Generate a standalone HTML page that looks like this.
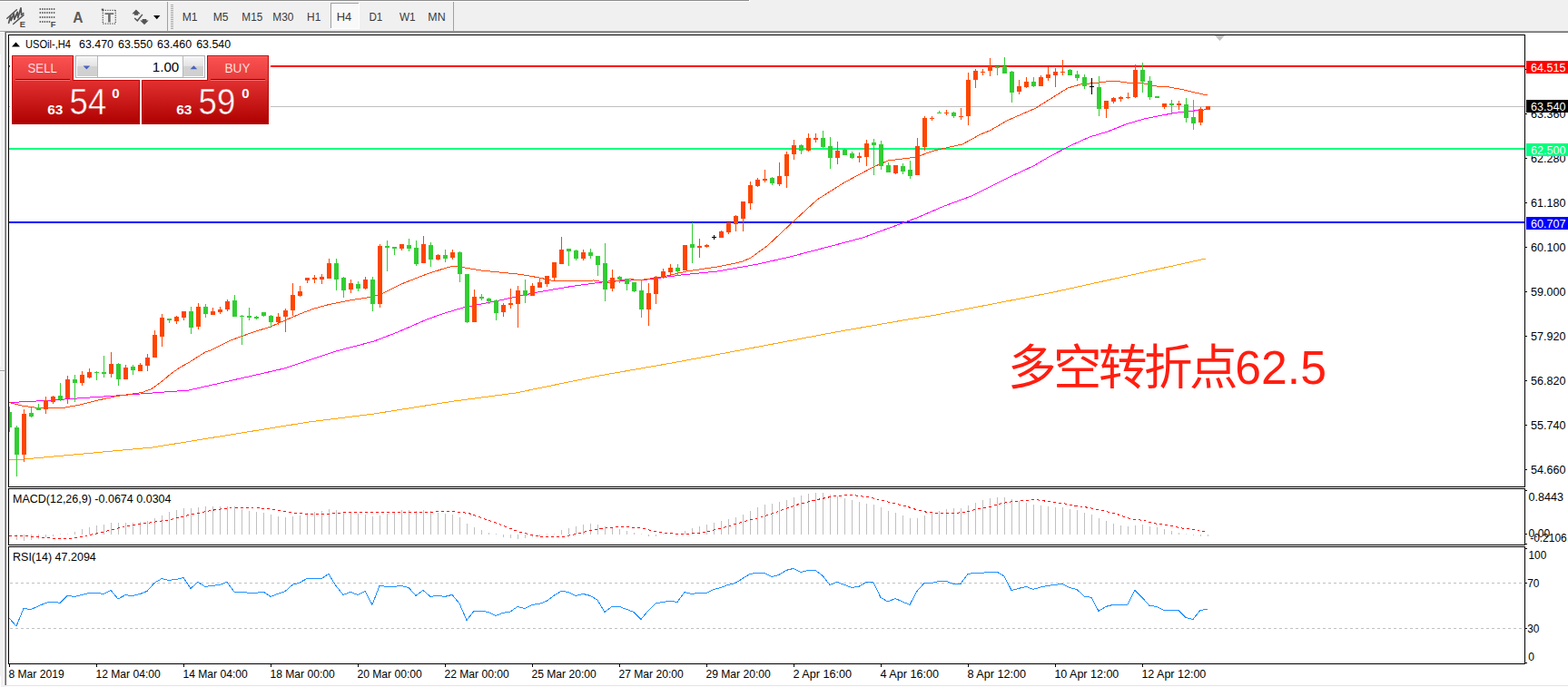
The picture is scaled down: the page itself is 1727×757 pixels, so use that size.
<!DOCTYPE html>
<html><head><meta charset="utf-8"><title>USOil H4</title>
<style>html,body{margin:0;padding:0;background:#f0f0f0;overflow:hidden}svg{display:block}text{font-family:"Liberation Sans",sans-serif;white-space:pre}</style>
</head><body>
<svg width="1727" height="757" viewBox="0 0 1727 757">
<rect x="0" y="0" width="1727" height="757" fill="#f0f0f0" />
<rect x="0" y="0" width="825" height="1" fill="#8c8c8c" />
<rect x="0" y="1" width="826" height="1" fill="#ffffff" />
<rect x="825" y="0" width="1" height="2" fill="#ffffff" />
<rect x="7" y="36" width="1720" height="721" fill="#ffffff" />
<rect x="0" y="34" width="1727" height="1" fill="#a0a0a0" />
<rect x="0" y="35" width="1727" height="1" fill="#696969" />
<rect x="0" y="35" width="5" height="1" fill="#ffffff" />
<rect x="0" y="60" width="1" height="344" fill="#fbfbfb" />
<rect x="4" y="36" width="1" height="719" fill="#fafafa" />
<rect x="0" y="408" width="5" height="1" fill="#a0a0a0" />
<rect x="0" y="409" width="5" height="1" fill="#ffffff" />
<rect x="0" y="745" width="1" height="12" fill="#ffffff" />
<rect x="5" y="35" width="1" height="720" fill="#a0a0a0" />
<rect x="6" y="35" width="1" height="720" fill="#696969" />
<rect x="7" y="755" width="1720" height="1" fill="#e3e3e3" />
<g shape-rendering="crispEdges">
<rect x="184" y="2" width="1" height="32" fill="#a0a0a0" />
<rect x="499" y="2" width="1" height="32" fill="#a0a0a0" />
<rect x="188" y="5" width="3" height="1" fill="#a8a8a8" />
<rect x="188" y="7" width="3" height="1" fill="#a8a8a8" />
<rect x="188" y="9" width="3" height="1" fill="#a8a8a8" />
<rect x="188" y="11" width="3" height="1" fill="#a8a8a8" />
<rect x="188" y="13" width="3" height="1" fill="#a8a8a8" />
<rect x="188" y="15" width="3" height="1" fill="#a8a8a8" />
<rect x="188" y="17" width="3" height="1" fill="#a8a8a8" />
<rect x="188" y="19" width="3" height="1" fill="#a8a8a8" />
<rect x="188" y="21" width="3" height="1" fill="#a8a8a8" />
<rect x="188" y="23" width="3" height="1" fill="#a8a8a8" />
<rect x="188" y="25" width="3" height="1" fill="#a8a8a8" />
<rect x="188" y="27" width="3" height="1" fill="#a8a8a8" />
<rect x="188" y="29" width="3" height="1" fill="#a8a8a8" />
<rect x="188" y="31" width="3" height="1" fill="#a8a8a8" />
<rect x="364" y="3" width="32" height="29" fill="#f9f9f9" />
<rect x="364" y="3" width="32" height="1" fill="#a0a0a0" />
<rect x="364" y="3" width="1" height="29" fill="#a0a0a0" />
<rect x="395" y="3" width="1" height="29" fill="#ffffff" />
<rect x="364" y="31" width="32" height="1" fill="#ffffff" />
</g>
<text x="209.1" y="23.1" font-size="12" fill="#3a3a3a" text-anchor="middle" font-weight="normal" textLength="16.9" lengthAdjust="spacingAndGlyphs" >M1</text>
<text x="243.1" y="23.1" font-size="12" fill="#3a3a3a" text-anchor="middle" font-weight="normal" textLength="16.8" lengthAdjust="spacingAndGlyphs" >M5</text>
<text x="277.8" y="23.1" font-size="12" fill="#3a3a3a" text-anchor="middle" font-weight="normal" textLength="22.9" lengthAdjust="spacingAndGlyphs" >M15</text>
<text x="311.8" y="23.1" font-size="12" fill="#3a3a3a" text-anchor="middle" font-weight="normal" textLength="23.1" lengthAdjust="spacingAndGlyphs" >M30</text>
<text x="345.7" y="23.1" font-size="12" fill="#3a3a3a" text-anchor="middle" font-weight="normal" textLength="15.2" lengthAdjust="spacingAndGlyphs" >H1</text>
<text x="378.9" y="23.1" font-size="12" fill="#3a3a3a" text-anchor="middle" font-weight="normal" textLength="16.5" lengthAdjust="spacingAndGlyphs" >H4</text>
<text x="413.9" y="23.1" font-size="12" fill="#3a3a3a" text-anchor="middle" font-weight="normal" textLength="14.9" lengthAdjust="spacingAndGlyphs" >D1</text>
<text x="448.8" y="23.1" font-size="12" fill="#3a3a3a" text-anchor="middle" font-weight="normal" textLength="17.7" lengthAdjust="spacingAndGlyphs" >W1</text>
<text x="481.0" y="23.1" font-size="12" fill="#3a3a3a" text-anchor="middle" font-weight="normal" textLength="19.3" lengthAdjust="spacingAndGlyphs" >MN</text>
<g stroke="#555555" fill="none" stroke-linecap="round" stroke-linejoin="round">
<path d="M7.8 20.3 L18.4 10.7 M14.6 26.5 L26 16.6" stroke-width="1.5"/>
<path d="M9.6 25.3 L11.6 17.6 L12.2 22.6 L15.2 15 L15.8 21.4 L19.2 13.4 L19.8 19.6 L23 8.8 L23.6 16.4 L25.8 14.6" stroke-width="1.7"/>
</g>
<text x="21.8" y="29.7" font-size="9.3" fill="#4a4a4a" text-anchor="start" font-weight="bold" >E</text>
<rect x="43.6" y="9" width="1.4" height="2" fill="#666666" />
<rect x="46.15" y="9" width="1.4" height="2" fill="#666666" />
<rect x="48.7" y="9" width="1.4" height="2" fill="#666666" />
<rect x="51.25" y="9" width="1.4" height="2" fill="#666666" />
<rect x="53.8" y="9" width="1.4" height="2" fill="#666666" />
<rect x="56.35" y="9" width="1.4" height="2" fill="#666666" />
<rect x="58.9" y="9" width="1.4" height="2" fill="#666666" />
<rect x="43.6" y="13" width="1.4" height="2" fill="#666666" />
<rect x="46.15" y="13" width="1.4" height="2" fill="#666666" />
<rect x="48.7" y="13" width="1.4" height="2" fill="#666666" />
<rect x="51.25" y="13" width="1.4" height="2" fill="#666666" />
<rect x="53.8" y="13" width="1.4" height="2" fill="#666666" />
<rect x="56.35" y="13" width="1.4" height="2" fill="#666666" />
<rect x="58.9" y="13" width="1.4" height="2" fill="#666666" />
<rect x="43.6" y="18" width="1.4" height="2" fill="#666666" />
<rect x="46.15" y="18" width="1.4" height="2" fill="#666666" />
<rect x="48.7" y="18" width="1.4" height="2" fill="#666666" />
<rect x="51.25" y="18" width="1.4" height="2" fill="#666666" />
<rect x="53.8" y="18" width="1.4" height="2" fill="#666666" />
<rect x="56.35" y="18" width="1.4" height="2" fill="#666666" />
<rect x="58.9" y="18" width="1.4" height="2" fill="#666666" />
<rect x="43.6" y="23" width="1.4" height="2" fill="#666666" />
<rect x="46.15" y="23" width="1.4" height="2" fill="#666666" />
<rect x="48.7" y="23" width="1.4" height="2" fill="#666666" />
<rect x="51.25" y="23" width="1.4" height="2" fill="#666666" />
<rect x="53.8" y="23" width="1.4" height="2" fill="#666666" />
<text x="55.8" y="29.7" font-size="9.3" fill="#4a4a4a" text-anchor="start" font-weight="bold" >F</text>
<text x="86" y="24.6" font-size="15.6" fill="#5a5a5a" text-anchor="middle" font-weight="bold" >A</text>
<g stroke="#555" stroke-width="1.3" stroke-dasharray="1.2 1.3" fill="none"><path d="M113.3 11.3 H127.6 M113.3 26.2 H127.6 M113.3 11.3 V26.2 M127.3 11.3 V26.2"/></g>
<rect x="111.8" y="9.6" width="2.4" height="2" fill="#555" />
<path d="M115.5 14.2 H125.2 V16 H121.7 V24.6 H119.1 V16 H115.5 Z" fill="#6c6c6c"/>
<path d="M149.9 10.4 L154.6 15.2 L152.2 15.2 L152.2 16.8 L147.8 16.8 L147.8 15.2 L145.4 15.2 Z" fill="#555555"/>
<path d="M159 27.2 L154.2 22.4 L156.7 22.4 L156.7 21 L161.3 21 L161.3 22.4 L163.7 22.4 Z" fill="#555555"/>
<path d="M148.2 20 L151.3 22.8 L156.9 15.9" stroke="#555555" stroke-width="1.5" fill="none"/>
<path d="M169 17 H176.4 L172.7 21.2 Z" fill="#000"/>
<g shape-rendering="crispEdges">
<rect x="9" y="38" width="1671" height="1" fill="#000" />
<rect x="9" y="536" width="1671" height="1" fill="#000" />
<rect x="9" y="38" width="1" height="499" fill="#000" />
<rect x="1679" y="38" width="1" height="499" fill="#000" />
<rect x="9" y="538" width="1671" height="1" fill="#000" />
<rect x="9" y="600" width="1671" height="1" fill="#000" />
<rect x="9" y="538" width="1" height="63" fill="#000" />
<rect x="1679" y="538" width="1" height="63" fill="#000" />
<rect x="9" y="602" width="1671" height="1" fill="#000" />
<rect x="9" y="731" width="1671" height="1" fill="#000" />
<rect x="9" y="602" width="1" height="130" fill="#000" />
<rect x="1679" y="602" width="1" height="130" fill="#000" />
</g>
<defs><clipPath id="cm"><rect x="10" y="39" width="1669" height="497"/></clipPath><clipPath id="c2"><rect x="10" y="539" width="1669" height="61"/></clipPath><clipPath id="c3"><rect x="10" y="603" width="1669" height="128"/></clipPath>
<linearGradient id="gs" x1="0" y1="0" x2="0" y2="1"><stop offset="0" stop-color="#fb5252"/><stop offset="1" stop-color="#e63a3a"/></linearGradient>
<linearGradient id="gp" x1="0" y1="0" x2="0" y2="1"><stop offset="0" stop-color="#e23030"/><stop offset="1" stop-color="#ae0000"/></linearGradient>
<linearGradient id="gb" x1="0" y1="0" x2="0" y2="1"><stop offset="0" stop-color="#f4f4f4"/><stop offset="0.45" stop-color="#e4e4e4"/><stop offset="0.5" stop-color="#d2d2d2"/><stop offset="1" stop-color="#cfcfcf"/></linearGradient>
</defs>
<g clip-path="url(#cm)">
<g shape-rendering="crispEdges">
<rect x="10" y="117" width="1669" height="1" fill="#c0c0c0" />
<rect x="10" y="72" width="1669" height="2" fill="#ff0000" />
<rect x="10" y="163" width="1669" height="2" fill="#00ff80" />
<rect x="10" y="244" width="1669" height="2" fill="#0000ff" />
</g>
<polyline points="10,506.6 22,506.4 168,493 340,465 412,456 500,442 568,433 660,414 740,400 820,385 920,366 1000,352 1031,347 1160,322 1328,285" fill="none" stroke="#ffa500" stroke-width="1" shape-rendering="crispEdges"/>
<polyline points="10,443.6 48,441.6 128,436 208,430 250,420.4 300,409 312,406.2 353,392.8 370,387 412,376 438,366 470,352 490,345 510,339 550,331 590,322.4 630,315.4 670,310 710,308.4 750,303 790,299 835,291 870,283 916,271 950,262 980,251 1010,240 1040,227 1070,216 1110,196 1140,182 1155,173 1180,160 1200,151 1220,145 1240,137 1260,131 1280,127 1300,123.4 1320,121.6 1330,120.6" fill="none" stroke="#ff00ff" stroke-width="1" shape-rendering="crispEdges"/>
<polyline points="10,443.6 24,447 38,449 58,450 72,449 88,446 108,441 128,436.6 156,432.6 166,429 172,425 180,419 188,412 198,405 208,399.5 226,388 232,386 254,375 276,367 298,360 330,346 346,340 362,335.6 385,331 408,327.4 420,324 442,313 470,302 490,295.6 498,293.4 502,293.4 530,298 574,302.4 594,306 610,309.6 654,309 670,311.6 690,307.6 706,308.4 730,305 756,299 790,294 810,290 818,288 826,284.5 832,280.5 838,276 845,271 876,242 900,220 930,201 962,184 978,177 1010,173 1020,169 1030,165.6 1060,159 1080,148 1090,144 1110,132.5 1140,119.5 1160,107 1176,97 1190,93 1210,91 1226,89 1244,91.4 1260,92 1274,95 1288,96 1304,99 1316,102 1330,105" fill="none" stroke="#ff4500" stroke-width="1" shape-rendering="crispEdges"/>
<g shape-rendering="crispEdges">
<rect x="10" y="448" width="1" height="28" fill="#32cd32" />
<rect x="8" y="454" width="5" height="17" fill="#32cd32" />
<rect x="18" y="469" width="1" height="56" fill="#32cd32" />
<rect x="16" y="471" width="5" height="30" fill="#32cd32" />
<rect x="26" y="451" width="1" height="58" fill="#ff4500" />
<rect x="24" y="456" width="5" height="45" fill="#ff4500" />
<rect x="34" y="449" width="1" height="11" fill="#32cd32" />
<rect x="32" y="455" width="5" height="4" fill="#32cd32" />
<rect x="42" y="445" width="1" height="7" fill="#32cd32" />
<rect x="40" y="449" width="5" height="3" fill="#32cd32" />
<rect x="50" y="437" width="1" height="19" fill="#ff4500" />
<rect x="48" y="441" width="5" height="10" fill="#ff4500" />
<rect x="58" y="436" width="1" height="9" fill="#ff4500" />
<rect x="56" y="437" width="5" height="6" fill="#ff4500" />
<rect x="66" y="422" width="1" height="20" fill="#32cd32" />
<rect x="64" y="436" width="5" height="4" fill="#32cd32" />
<rect x="74" y="414" width="1" height="31" fill="#ff4500" />
<rect x="72" y="418" width="5" height="21" fill="#ff4500" />
<rect x="82" y="413" width="1" height="30" fill="#32cd32" />
<rect x="80" y="418" width="5" height="4" fill="#32cd32" />
<rect x="90" y="409" width="1" height="16" fill="#ff4500" />
<rect x="88" y="413" width="5" height="9" fill="#ff4500" />
<rect x="98" y="406" width="1" height="11" fill="#ff4500" />
<rect x="96" y="410" width="5" height="6" fill="#ff4500" />
<rect x="106" y="409" width="1" height="10" fill="#32cd32" />
<rect x="104" y="410" width="5" height="1" fill="#32cd32" />
<rect x="114" y="392" width="1" height="24" fill="#32cd32" />
<rect x="112" y="410" width="5" height="2" fill="#32cd32" />
<rect x="122" y="388" width="1" height="28" fill="#ff4500" />
<rect x="120" y="401" width="5" height="11" fill="#ff4500" />
<rect x="130" y="400" width="1" height="25" fill="#32cd32" />
<rect x="128" y="401" width="5" height="17" fill="#32cd32" />
<rect x="138" y="402" width="1" height="16" fill="#ff4500" />
<rect x="136" y="405" width="5" height="13" fill="#ff4500" />
<rect x="146" y="402" width="1" height="11" fill="#32cd32" />
<rect x="144" y="404" width="5" height="4" fill="#32cd32" />
<rect x="154" y="400" width="1" height="9" fill="#ff4500" />
<rect x="152" y="402" width="5" height="7" fill="#ff4500" />
<rect x="162" y="390" width="1" height="19" fill="#ff4500" />
<rect x="160" y="394" width="5" height="9" fill="#ff4500" />
<rect x="170" y="364" width="1" height="30" fill="#ff4500" />
<rect x="168" y="369" width="5" height="25" fill="#ff4500" />
<rect x="178" y="346" width="1" height="36" fill="#ff4500" />
<rect x="176" y="350" width="5" height="21" fill="#ff4500" />
<rect x="186" y="351" width="1" height="5" fill="#32cd32" />
<rect x="184" y="351" width="5" height="2" fill="#32cd32" />
<rect x="194" y="348" width="1" height="9" fill="#ff4500" />
<rect x="192" y="349" width="5" height="5" fill="#ff4500" />
<rect x="202" y="343" width="1" height="10" fill="#ff4500" />
<rect x="200" y="343" width="5" height="7" fill="#ff4500" />
<rect x="210" y="338" width="1" height="30" fill="#32cd32" />
<rect x="208" y="343" width="5" height="18" fill="#32cd32" />
<rect x="218" y="334" width="1" height="29" fill="#ff4500" />
<rect x="216" y="338" width="5" height="22" fill="#ff4500" />
<rect x="226" y="335" width="1" height="15" fill="#32cd32" />
<rect x="224" y="338" width="5" height="8" fill="#32cd32" />
<rect x="234" y="339" width="1" height="8" fill="#ff4500" />
<rect x="232" y="343" width="5" height="4" fill="#ff4500" />
<rect x="242" y="338" width="1" height="8" fill="#ff4500" />
<rect x="240" y="341" width="5" height="3" fill="#ff4500" />
<rect x="250" y="330" width="1" height="13" fill="#ff4500" />
<rect x="248" y="332" width="5" height="9" fill="#ff4500" />
<rect x="258" y="325" width="1" height="24" fill="#32cd32" />
<rect x="256" y="331" width="5" height="18" fill="#32cd32" />
<rect x="266" y="347" width="1" height="33" fill="#32cd32" />
<rect x="264" y="348" width="5" height="1" fill="#32cd32" />
<rect x="274" y="339" width="1" height="14" fill="#32cd32" />
<rect x="272" y="348" width="5" height="2" fill="#32cd32" />
<rect x="282" y="348" width="1" height="4" fill="#32cd32" />
<rect x="280" y="349" width="5" height="2" fill="#32cd32" />
<rect x="290" y="344" width="1" height="5" fill="#32cd32" />
<rect x="288" y="344" width="5" height="4" fill="#32cd32" />
<rect x="298" y="347" width="1" height="14" fill="#32cd32" />
<rect x="296" y="348" width="5" height="7" fill="#32cd32" />
<rect x="306" y="345" width="1" height="13" fill="#ff4500" />
<rect x="304" y="349" width="5" height="6" fill="#ff4500" />
<rect x="314" y="340" width="1" height="26" fill="#ff4500" />
<rect x="312" y="342" width="5" height="7" fill="#ff4500" />
<rect x="322" y="312" width="1" height="36" fill="#ff4500" />
<rect x="320" y="325" width="5" height="17" fill="#ff4500" />
<rect x="330" y="315" width="1" height="12" fill="#ff4500" />
<rect x="328" y="321" width="5" height="5" fill="#ff4500" />
<rect x="338" y="306" width="1" height="6" fill="#ff4500" />
<rect x="336" y="306" width="5" height="3" fill="#ff4500" />
<rect x="346" y="303" width="1" height="9" fill="#ff4500" />
<rect x="344" y="306" width="5" height="2" fill="#ff4500" />
<rect x="354" y="302" width="1" height="11" fill="#ff4500" />
<rect x="352" y="305" width="5" height="3" fill="#ff4500" />
<rect x="362" y="285" width="1" height="22" fill="#ff4500" />
<rect x="360" y="290" width="5" height="17" fill="#ff4500" />
<rect x="370" y="285" width="1" height="35" fill="#32cd32" />
<rect x="368" y="290" width="5" height="18" fill="#32cd32" />
<rect x="378" y="305" width="1" height="23" fill="#32cd32" />
<rect x="376" y="306" width="5" height="14" fill="#32cd32" />
<rect x="386" y="308" width="1" height="15" fill="#ff4500" />
<rect x="384" y="312" width="5" height="7" fill="#ff4500" />
<rect x="394" y="310" width="1" height="11" fill="#32cd32" />
<rect x="392" y="313" width="5" height="5" fill="#32cd32" />
<rect x="402" y="305" width="1" height="14" fill="#ff4500" />
<rect x="400" y="308" width="5" height="10" fill="#ff4500" />
<rect x="410" y="305" width="1" height="38" fill="#32cd32" />
<rect x="408" y="308" width="5" height="27" fill="#32cd32" />
<rect x="418" y="269" width="1" height="70" fill="#ff4500" />
<rect x="416" y="271" width="5" height="64" fill="#ff4500" />
<rect x="426" y="265" width="1" height="34" fill="#32cd32" />
<rect x="424" y="271" width="5" height="2" fill="#32cd32" />
<rect x="434" y="272" width="1" height="9" fill="#32cd32" />
<rect x="432" y="272" width="5" height="2" fill="#32cd32" />
<rect x="442" y="269" width="1" height="7" fill="#ff4500" />
<rect x="440" y="269" width="5" height="5" fill="#ff4500" />
<rect x="450" y="263" width="1" height="14" fill="#32cd32" />
<rect x="448" y="270" width="5" height="4" fill="#32cd32" />
<rect x="458" y="265" width="1" height="28" fill="#32cd32" />
<rect x="456" y="273" width="5" height="18" fill="#32cd32" />
<rect x="466" y="260" width="1" height="30" fill="#ff4500" />
<rect x="464" y="269" width="5" height="21" fill="#ff4500" />
<rect x="474" y="267" width="1" height="27" fill="#32cd32" />
<rect x="472" y="270" width="5" height="16" fill="#32cd32" />
<rect x="482" y="280" width="1" height="7" fill="#ff4500" />
<rect x="480" y="281" width="5" height="5" fill="#ff4500" />
<rect x="490" y="275" width="1" height="14" fill="#32cd32" />
<rect x="488" y="281" width="5" height="4" fill="#32cd32" />
<rect x="498" y="275" width="1" height="11" fill="#ff4500" />
<rect x="496" y="278" width="5" height="6" fill="#ff4500" />
<rect x="506" y="277" width="1" height="34" fill="#32cd32" />
<rect x="504" y="278" width="5" height="24" fill="#32cd32" />
<rect x="514" y="302" width="1" height="54" fill="#32cd32" />
<rect x="512" y="302" width="5" height="53" fill="#32cd32" />
<rect x="522" y="319" width="1" height="36" fill="#ff4500" />
<rect x="520" y="327" width="5" height="28" fill="#ff4500" />
<rect x="530" y="324" width="1" height="7" fill="#32cd32" />
<rect x="528" y="327" width="5" height="2" fill="#32cd32" />
<rect x="538" y="328" width="1" height="7" fill="#32cd32" />
<rect x="536" y="329" width="5" height="3" fill="#32cd32" />
<rect x="546" y="330" width="1" height="23" fill="#32cd32" />
<rect x="544" y="331" width="5" height="14" fill="#32cd32" />
<rect x="554" y="334" width="1" height="15" fill="#ff4500" />
<rect x="552" y="336" width="5" height="8" fill="#ff4500" />
<rect x="562" y="318" width="1" height="22" fill="#ff4500" />
<rect x="560" y="334" width="5" height="2" fill="#ff4500" />
<rect x="570" y="315" width="1" height="46" fill="#ff4500" />
<rect x="568" y="320" width="5" height="15" fill="#ff4500" />
<rect x="578" y="308" width="1" height="26" fill="#32cd32" />
<rect x="576" y="320" width="5" height="6" fill="#32cd32" />
<rect x="586" y="312" width="1" height="14" fill="#ff4500" />
<rect x="584" y="315" width="5" height="11" fill="#ff4500" />
<rect x="594" y="307" width="1" height="10" fill="#ff4500" />
<rect x="592" y="311" width="5" height="6" fill="#ff4500" />
<rect x="602" y="304" width="1" height="12" fill="#ff4500" />
<rect x="600" y="304" width="5" height="9" fill="#ff4500" />
<rect x="610" y="289" width="1" height="20" fill="#ff4500" />
<rect x="608" y="289" width="5" height="17" fill="#ff4500" />
<rect x="618" y="261" width="1" height="30" fill="#ff4500" />
<rect x="616" y="275" width="5" height="16" fill="#ff4500" />
<rect x="626" y="274" width="1" height="19" fill="#32cd32" />
<rect x="624" y="274" width="5" height="3" fill="#32cd32" />
<rect x="634" y="275" width="1" height="12" fill="#32cd32" />
<rect x="632" y="276" width="5" height="9" fill="#32cd32" />
<rect x="642" y="275" width="1" height="12" fill="#ff4500" />
<rect x="640" y="278" width="5" height="7" fill="#ff4500" />
<rect x="650" y="274" width="1" height="11" fill="#32cd32" />
<rect x="648" y="278" width="5" height="4" fill="#32cd32" />
<rect x="658" y="282" width="1" height="22" fill="#32cd32" />
<rect x="656" y="282" width="5" height="10" fill="#32cd32" />
<rect x="666" y="268" width="1" height="64" fill="#32cd32" />
<rect x="664" y="290" width="5" height="29" fill="#32cd32" />
<rect x="674" y="297" width="1" height="24" fill="#ff4500" />
<rect x="672" y="306" width="5" height="12" fill="#ff4500" />
<rect x="682" y="304" width="1" height="8" fill="#32cd32" />
<rect x="680" y="305" width="5" height="3" fill="#32cd32" />
<rect x="690" y="307" width="1" height="13" fill="#32cd32" />
<rect x="688" y="307" width="5" height="6" fill="#32cd32" />
<rect x="698" y="311" width="1" height="11" fill="#32cd32" />
<rect x="696" y="311" width="5" height="10" fill="#32cd32" />
<rect x="706" y="308" width="1" height="42" fill="#32cd32" />
<rect x="704" y="320" width="5" height="21" fill="#32cd32" />
<rect x="714" y="312" width="1" height="47" fill="#ff4500" />
<rect x="712" y="323" width="5" height="18" fill="#ff4500" />
<rect x="722" y="304" width="1" height="31" fill="#ff4500" />
<rect x="720" y="305" width="5" height="19" fill="#ff4500" />
<rect x="730" y="296" width="1" height="11" fill="#ff4500" />
<rect x="728" y="299" width="5" height="7" fill="#ff4500" />
<rect x="738" y="291" width="1" height="12" fill="#ff4500" />
<rect x="736" y="295" width="5" height="5" fill="#ff4500" />
<rect x="746" y="291" width="1" height="13" fill="#32cd32" />
<rect x="744" y="295" width="5" height="4" fill="#32cd32" />
<rect x="754" y="270" width="1" height="28" fill="#ff4500" />
<rect x="752" y="270" width="5" height="28" fill="#ff4500" />
<rect x="762" y="245" width="1" height="45" fill="#32cd32" />
<rect x="760" y="269" width="5" height="4" fill="#32cd32" />
<rect x="770" y="263" width="1" height="21" fill="#ff4500" />
<rect x="768" y="271" width="5" height="2" fill="#ff4500" />
<rect x="778" y="269" width="1" height="4" fill="#ff4500" />
<rect x="776" y="270" width="5" height="2" fill="#ff4500" />
<rect x="786" y="259" width="1" height="5" fill="#000000" />
<rect x="784" y="261" width="5" height="1" fill="#000000" />
<rect x="794" y="254" width="1" height="8" fill="#ff4500" />
<rect x="792" y="255" width="5" height="7" fill="#ff4500" />
<rect x="802" y="245" width="1" height="13" fill="#ff4500" />
<rect x="800" y="245" width="5" height="11" fill="#ff4500" />
<rect x="810" y="237" width="1" height="18" fill="#ff4500" />
<rect x="808" y="238" width="5" height="9" fill="#ff4500" />
<rect x="818" y="222" width="1" height="33" fill="#ff4500" />
<rect x="816" y="222" width="5" height="19" fill="#ff4500" />
<rect x="826" y="200" width="1" height="31" fill="#ff4500" />
<rect x="824" y="204" width="5" height="20" fill="#ff4500" />
<rect x="834" y="196" width="1" height="10" fill="#ff4500" />
<rect x="832" y="198" width="5" height="7" fill="#ff4500" />
<rect x="842" y="187" width="1" height="14" fill="#ff4500" />
<rect x="840" y="197" width="5" height="2" fill="#ff4500" />
<rect x="850" y="195" width="1" height="9" fill="#32cd32" />
<rect x="848" y="196" width="5" height="6" fill="#32cd32" />
<rect x="858" y="179" width="1" height="26" fill="#ff4500" />
<rect x="856" y="194" width="5" height="9" fill="#ff4500" />
<rect x="866" y="167" width="1" height="40" fill="#ff4500" />
<rect x="864" y="170" width="5" height="24" fill="#ff4500" />
<rect x="874" y="154" width="1" height="22" fill="#ff4500" />
<rect x="872" y="160" width="5" height="10" fill="#ff4500" />
<rect x="882" y="159" width="1" height="11" fill="#32cd32" />
<rect x="880" y="160" width="5" height="6" fill="#32cd32" />
<rect x="890" y="147" width="1" height="20" fill="#ff4500" />
<rect x="888" y="152" width="5" height="14" fill="#ff4500" />
<rect x="898" y="147" width="1" height="10" fill="#ff4500" />
<rect x="896" y="152" width="5" height="2" fill="#ff4500" />
<rect x="906" y="144" width="1" height="19" fill="#32cd32" />
<rect x="904" y="152" width="5" height="10" fill="#32cd32" />
<rect x="914" y="151" width="1" height="35" fill="#32cd32" />
<rect x="912" y="161" width="5" height="13" fill="#32cd32" />
<rect x="922" y="156" width="1" height="25" fill="#ff4500" />
<rect x="920" y="166" width="5" height="8" fill="#ff4500" />
<rect x="930" y="164" width="1" height="7" fill="#32cd32" />
<rect x="928" y="165" width="5" height="6" fill="#32cd32" />
<rect x="938" y="167" width="1" height="8" fill="#32cd32" />
<rect x="936" y="169" width="5" height="5" fill="#32cd32" />
<rect x="946" y="168" width="1" height="11" fill="#ff4500" />
<rect x="944" y="172" width="5" height="2" fill="#ff4500" />
<rect x="954" y="154" width="1" height="29" fill="#ff4500" />
<rect x="952" y="158" width="5" height="15" fill="#ff4500" />
<rect x="962" y="153" width="1" height="40" fill="#32cd32" />
<rect x="960" y="157" width="5" height="3" fill="#32cd32" />
<rect x="970" y="155" width="1" height="32" fill="#32cd32" />
<rect x="968" y="159" width="5" height="24" fill="#32cd32" />
<rect x="978" y="179" width="1" height="11" fill="#32cd32" />
<rect x="976" y="182" width="5" height="8" fill="#32cd32" />
<rect x="986" y="182" width="1" height="10" fill="#ff4500" />
<rect x="984" y="182" width="5" height="9" fill="#ff4500" />
<rect x="994" y="180" width="1" height="12" fill="#32cd32" />
<rect x="992" y="183" width="5" height="6" fill="#32cd32" />
<rect x="1002" y="177" width="1" height="20" fill="#32cd32" />
<rect x="1000" y="187" width="5" height="7" fill="#32cd32" />
<rect x="1010" y="152" width="1" height="41" fill="#ff4500" />
<rect x="1008" y="161" width="5" height="32" fill="#ff4500" />
<rect x="1018" y="128" width="1" height="38" fill="#ff4500" />
<rect x="1016" y="130" width="5" height="32" fill="#ff4500" />
<rect x="1026" y="128" width="1" height="5" fill="#ff4500" />
<rect x="1024" y="130" width="5" height="1" fill="#ff4500" />
<rect x="1034" y="122" width="1" height="3" fill="#32cd32" />
<rect x="1032" y="124" width="5" height="1" fill="#32cd32" />
<rect x="1042" y="121" width="1" height="6" fill="#ff4500" />
<rect x="1040" y="124" width="5" height="1" fill="#ff4500" />
<rect x="1050" y="123" width="1" height="7" fill="#32cd32" />
<rect x="1048" y="124" width="5" height="4" fill="#32cd32" />
<rect x="1058" y="119" width="1" height="13" fill="#ff4500" />
<rect x="1056" y="128" width="5" height="1" fill="#ff4500" />
<rect x="1066" y="80" width="1" height="58" fill="#ff4500" />
<rect x="1064" y="88" width="5" height="40" fill="#ff4500" />
<rect x="1074" y="76" width="1" height="21" fill="#ff4500" />
<rect x="1072" y="78" width="5" height="10" fill="#ff4500" />
<rect x="1082" y="76" width="1" height="7" fill="#ff4500" />
<rect x="1080" y="79" width="5" height="1" fill="#ff4500" />
<rect x="1090" y="64" width="1" height="20" fill="#ff4500" />
<rect x="1088" y="73" width="5" height="5" fill="#ff4500" />
<rect x="1098" y="73" width="1" height="10" fill="#32cd32" />
<rect x="1096" y="73" width="5" height="2" fill="#32cd32" />
<rect x="1106" y="63" width="1" height="18" fill="#32cd32" />
<rect x="1104" y="73" width="5" height="8" fill="#32cd32" />
<rect x="1114" y="78" width="1" height="35" fill="#32cd32" />
<rect x="1112" y="79" width="5" height="23" fill="#32cd32" />
<rect x="1122" y="88" width="1" height="16" fill="#ff4500" />
<rect x="1120" y="95" width="5" height="6" fill="#ff4500" />
<rect x="1130" y="85" width="1" height="12" fill="#ff4500" />
<rect x="1128" y="90" width="5" height="6" fill="#ff4500" />
<rect x="1138" y="85" width="1" height="11" fill="#32cd32" />
<rect x="1136" y="90" width="5" height="5" fill="#32cd32" />
<rect x="1146" y="83" width="1" height="12" fill="#ff4500" />
<rect x="1144" y="85" width="5" height="10" fill="#ff4500" />
<rect x="1154" y="74" width="1" height="15" fill="#ff4500" />
<rect x="1152" y="82" width="5" height="4" fill="#ff4500" />
<rect x="1162" y="75" width="1" height="21" fill="#ff4500" />
<rect x="1160" y="79" width="5" height="4" fill="#ff4500" />
<rect x="1170" y="66" width="1" height="17" fill="#ff4500" />
<rect x="1168" y="79" width="5" height="1" fill="#ff4500" />
<rect x="1178" y="76" width="1" height="7" fill="#32cd32" />
<rect x="1176" y="77" width="5" height="6" fill="#32cd32" />
<rect x="1186" y="78" width="1" height="11" fill="#32cd32" />
<rect x="1184" y="82" width="5" height="4" fill="#32cd32" />
<rect x="1194" y="82" width="1" height="16" fill="#32cd32" />
<rect x="1192" y="85" width="5" height="10" fill="#32cd32" />
<rect x="1202" y="86" width="1" height="18" fill="#000000" />
<rect x="1200" y="95" width="5" height="1" fill="#000000" />
<rect x="1210" y="84" width="1" height="44" fill="#32cd32" />
<rect x="1208" y="96" width="5" height="24" fill="#32cd32" />
<rect x="1218" y="111" width="1" height="19" fill="#ff4500" />
<rect x="1216" y="111" width="5" height="9" fill="#ff4500" />
<rect x="1226" y="107" width="1" height="7" fill="#ff4500" />
<rect x="1224" y="108" width="5" height="4" fill="#ff4500" />
<rect x="1234" y="106" width="1" height="6" fill="#ff4500" />
<rect x="1232" y="107" width="5" height="2" fill="#ff4500" />
<rect x="1242" y="102" width="1" height="7" fill="#ff4500" />
<rect x="1240" y="107" width="5" height="1" fill="#ff4500" />
<rect x="1250" y="71" width="1" height="37" fill="#ff4500" />
<rect x="1248" y="77" width="5" height="30" fill="#ff4500" />
<rect x="1258" y="69" width="1" height="33" fill="#32cd32" />
<rect x="1256" y="77" width="5" height="13" fill="#32cd32" />
<rect x="1266" y="84" width="1" height="26" fill="#32cd32" />
<rect x="1264" y="89" width="5" height="18" fill="#32cd32" />
<rect x="1274" y="106" width="1" height="2" fill="#32cd32" />
<rect x="1272" y="106" width="5" height="2" fill="#32cd32" />
<rect x="1282" y="114" width="1" height="6" fill="#ff4500" />
<rect x="1280" y="114" width="5" height="4" fill="#ff4500" />
<rect x="1290" y="110" width="1" height="15" fill="#32cd32" />
<rect x="1288" y="114" width="5" height="2" fill="#32cd32" />
<rect x="1298" y="111" width="1" height="10" fill="#ff4500" />
<rect x="1296" y="114" width="5" height="2" fill="#ff4500" />
<rect x="1306" y="108" width="1" height="27" fill="#32cd32" />
<rect x="1304" y="115" width="5" height="15" fill="#32cd32" />
<rect x="1314" y="110" width="1" height="33" fill="#32cd32" />
<rect x="1312" y="129" width="5" height="7" fill="#32cd32" />
<rect x="1322" y="118" width="1" height="20" fill="#ff4500" />
<rect x="1320" y="120" width="5" height="15" fill="#ff4500" />
<rect x="1330" y="117" width="1" height="4" fill="#ff4500" />
<rect x="1328" y="117" width="5" height="4" fill="#ff4500" />
</g>
<path d="M1338 39 H1349 L1343.5 45 Z" fill="#c0c0c0"/>
</g>
<text x="1110 1160 1210 1260 1310" y="424" font-size="53.5" fill="#ff1e10" text-anchor="start" font-weight="normal" style="font-family:'Liberation Sans','Noto Sans CJK SC',sans-serif">多空转折点</text>
<text x="1360.3" y="423.2" font-size="51.75" fill="#ff1e10" text-anchor="start" font-weight="normal" style="font-family:'Liberation Sans','Noto Sans CJK SC',sans-serif">62.5</text>
<path d="M13 51.5 L17.5 46.5 L22 51.5 Z" fill="#000"/>
<text x="28" y="52.7" font-size="12" fill="#000" text-anchor="start" font-weight="normal" textLength="50" lengthAdjust="spacingAndGlyphs" >USOil-,H4</text>
<text x="87.0" y="52.7" font-size="12" fill="#000" text-anchor="start" font-weight="normal" textLength="38" lengthAdjust="spacingAndGlyphs" >63.470</text>
<text x="130.05" y="52.7" font-size="12" fill="#000" text-anchor="start" font-weight="normal" textLength="38" lengthAdjust="spacingAndGlyphs" >63.550</text>
<text x="173.1" y="52.7" font-size="12" fill="#000" text-anchor="start" font-weight="normal" textLength="38" lengthAdjust="spacingAndGlyphs" >63.460</text>
<text x="216.14999999999998" y="52.7" font-size="12" fill="#000" text-anchor="start" font-weight="normal" textLength="38" lengthAdjust="spacingAndGlyphs" >63.540</text>
<defs><linearGradient id="gpu" gradientUnits="userSpaceOnUse" x1="0" y1="89" x2="0" y2="137"><stop offset="0" stop-color="#e23030"/><stop offset="1" stop-color="#ae0000"/></linearGradient>
<linearGradient id="gsu" gradientUnits="userSpaceOnUse" x1="0" y1="61" x2="0" y2="89"><stop offset="0" stop-color="#fb5252"/><stop offset="1" stop-color="#e63a3a"/></linearGradient></defs>
<g shape-rendering="crispEdges">
<rect x="11" y="59" width="287" height="79" fill="#ffffff" />
<rect x="83" y="61" width="143" height="25" fill="#ffffff" />
<rect x="83" y="61" width="143" height="1" fill="#adadb5" />
<rect x="83" y="85" width="143" height="1" fill="#adadb5" />
<rect x="83" y="61" width="1" height="25" fill="#adadb5" />
<rect x="225" y="61" width="1" height="25" fill="#adadb5" />
<rect x="85" y="63" width="22" height="21" fill="url(#gb)" />
<rect x="107" y="62" width="1" height="23" fill="#b8b8c0" />
<rect x="202" y="63" width="22" height="21" fill="url(#gb)" />
<rect x="201" y="62" width="1" height="23" fill="#b8b8c0" />
<rect x="13" y="61" width="68" height="28" fill="url(#gsu)" />
<rect x="13" y="61" width="68" height="1" fill="#c00808" />
<rect x="13" y="61" width="1" height="28" fill="#c00808" />
<rect x="80" y="61" width="1" height="28" fill="#c00808" />
<rect x="14" y="62" width="66" height="1" fill="#fc6a6a" />
<rect x="228" y="61" width="68" height="28" fill="url(#gsu)" />
<rect x="228" y="61" width="68" height="1" fill="#c00808" />
<rect x="295" y="61" width="1" height="28" fill="#c00808" />
<rect x="228" y="61" width="1" height="28" fill="#c00808" />
<rect x="229" y="62" width="66" height="1" fill="#fc6a6a" />
<rect x="13" y="89" width="141" height="48" fill="url(#gpu)" />
<rect x="156" y="89" width="140" height="48" fill="url(#gpu)" />
<rect x="13" y="89" width="1" height="48" fill="#b40404" />
<rect x="295" y="89" width="1" height="48" fill="#b40404" />
<rect x="153" y="89" width="1" height="48" fill="#b40404" />
<rect x="156" y="89" width="1" height="48" fill="#b40404" />
<rect x="80" y="88" width="74" height="1" fill="#c00808" />
<rect x="156" y="88" width="73" height="1" fill="#c00808" />
<rect x="81" y="88" width="0" height="0" fill="#fff" />
<rect x="17" y="87" width="60" height="1" fill="#900000" />
<rect x="17" y="88" width="60" height="1" fill="#f86c6c" />
<rect x="232" y="87" width="60" height="1" fill="#900000" />
<rect x="232" y="88" width="60" height="1" fill="#f86c6c" />
</g>
<path d="M91.6 72.4 H99.2 L95.4 76.4 Z" fill="#4a62c0"/>
<path d="M209.6 76.2 H217.2 L213.4 72.2 Z" fill="#4a62c0"/>
<text x="46.7" y="80" font-size="15" fill="#fff" text-anchor="middle" font-weight="normal" textLength="32.3" lengthAdjust="spacingAndGlyphs" stroke="url(#gsu)" stroke-width="0.25">SELL</text>
<text x="261.5" y="80" font-size="15" fill="#fff" text-anchor="middle" font-weight="normal" textLength="28.2" lengthAdjust="spacingAndGlyphs" stroke="url(#gsu)" stroke-width="0.25">BUY</text>
<text x="197.3" y="78.8" font-size="15" fill="#000" text-anchor="end" font-weight="normal" textLength="29.5" lengthAdjust="spacingAndGlyphs" >1.00</text>
<text x="52.2" y="126.1" font-size="15" fill="#fff" text-anchor="start" font-weight="bold" textLength="17.2" lengthAdjust="spacingAndGlyphs" >63</text>
<text x="76.6" y="126.2" font-size="40.6" fill="#fff" text-anchor="start" font-weight="normal" textLength="40.6" lengthAdjust="spacingAndGlyphs" stroke="url(#gpu)" stroke-width="0.5">54</text>
<text x="123.2" y="108.4" font-size="15" fill="#fff" text-anchor="start" font-weight="bold" >0</text>
<text x="194.2" y="126.1" font-size="15" fill="#fff" text-anchor="start" font-weight="bold" textLength="17.2" lengthAdjust="spacingAndGlyphs" >63</text>
<text x="218.6" y="126.2" font-size="40.6" fill="#fff" text-anchor="start" font-weight="normal" textLength="40.6" lengthAdjust="spacingAndGlyphs" stroke="url(#gpu)" stroke-width="0.5">59</text>
<text x="266.2" y="108.4" font-size="15" fill="#fff" text-anchor="start" font-weight="bold" >0</text>
<g shape-rendering="crispEdges">
<rect x="1680" y="76" width="2" height="1" fill="#000" />
<rect x="1680" y="125" width="2" height="1" fill="#000" />
<rect x="1680" y="174" width="2" height="1" fill="#000" />
<rect x="1680" y="223" width="2" height="1" fill="#000" />
<rect x="1680" y="272" width="2" height="1" fill="#000" />
<rect x="1680" y="321" width="2" height="1" fill="#000" />
<rect x="1680" y="370" width="2" height="1" fill="#000" />
<rect x="1680" y="419" width="2" height="1" fill="#000" />
<rect x="1680" y="468" width="2" height="1" fill="#000" />
<rect x="1680" y="517" width="2" height="1" fill="#000" />
<rect x="1680" y="540" width="2" height="1" fill="#000" />
<rect x="1680" y="588" width="2" height="1" fill="#000" />
<rect x="1680" y="599" width="2" height="1" fill="#000" />
<rect x="1680" y="604" width="2" height="1" fill="#000" />
<rect x="1680" y="642" width="2" height="1" fill="#000" />
<rect x="1680" y="692" width="2" height="1" fill="#000" />
<rect x="1680" y="730" width="2" height="1" fill="#000" />
</g>
<text x="1686" y="129.8" font-size="12" fill="#000" text-anchor="start" font-weight="normal" textLength="38.4" lengthAdjust="spacingAndGlyphs" >63.360</text>
<text x="1686" y="178.8" font-size="12" fill="#000" text-anchor="start" font-weight="normal" textLength="38.4" lengthAdjust="spacingAndGlyphs" >62.280</text>
<text x="1686" y="227.8" font-size="12" fill="#000" text-anchor="start" font-weight="normal" textLength="38.4" lengthAdjust="spacingAndGlyphs" >61.180</text>
<text x="1686" y="276.8" font-size="12" fill="#000" text-anchor="start" font-weight="normal" textLength="38.4" lengthAdjust="spacingAndGlyphs" >60.100</text>
<text x="1686" y="325.8" font-size="12" fill="#000" text-anchor="start" font-weight="normal" textLength="38.4" lengthAdjust="spacingAndGlyphs" >59.000</text>
<text x="1686" y="374.8" font-size="12" fill="#000" text-anchor="start" font-weight="normal" textLength="38.4" lengthAdjust="spacingAndGlyphs" >57.920</text>
<text x="1686" y="423.8" font-size="12" fill="#000" text-anchor="start" font-weight="normal" textLength="38.4" lengthAdjust="spacingAndGlyphs" >56.820</text>
<text x="1686" y="472.8" font-size="12" fill="#000" text-anchor="start" font-weight="normal" textLength="38.4" lengthAdjust="spacingAndGlyphs" >55.740</text>
<text x="1686" y="521.8" font-size="12" fill="#000" text-anchor="start" font-weight="normal" textLength="38.4" lengthAdjust="spacingAndGlyphs" >54.660</text>
<g shape-rendering="crispEdges">
<rect x="1681" y="67" width="46" height="14" fill="#ff0000" />
<rect x="1681" y="110" width="46" height="14" fill="#000000" />
<rect x="1681" y="158" width="46" height="14" fill="#00ff80" />
<rect x="1681" y="239" width="46" height="14" fill="#0000ff" />
</g>
<text x="1686" y="78.8" font-size="12" fill="#fff" text-anchor="start" font-weight="normal" textLength="38.4" lengthAdjust="spacingAndGlyphs" >64.515</text>
<text x="1686" y="121.8" font-size="12" fill="#fff" text-anchor="start" font-weight="normal" textLength="38.4" lengthAdjust="spacingAndGlyphs" >63.540</text>
<text x="1686" y="169.8" font-size="12" fill="#fff" text-anchor="start" font-weight="normal" textLength="38.4" lengthAdjust="spacingAndGlyphs" >62.500</text>
<text x="1686" y="250.8" font-size="12" fill="#fff" text-anchor="start" font-weight="normal" textLength="38.4" lengthAdjust="spacingAndGlyphs" >60.707</text>
<g clip-path="url(#c2)">
<g shape-rendering="crispEdges">
<rect x="18" y="589" width="1" height="6" fill="#c0c0c0" />
<rect x="26" y="589" width="1" height="7" fill="#c0c0c0" />
<rect x="34" y="589" width="1" height="6" fill="#c0c0c0" />
<rect x="42" y="589" width="1" height="5" fill="#c0c0c0" />
<rect x="50" y="589" width="1" height="3" fill="#c0c0c0" />
<rect x="58" y="589" width="1" height="2" fill="#c0c0c0" />
<rect x="66" y="588" width="1" height="1" fill="#d8d8d8" />
<rect x="74" y="588" width="1" height="1" fill="#d8d8d8" />
<rect x="82" y="586" width="1" height="3" fill="#c0c0c0" />
<rect x="90" y="583" width="1" height="6" fill="#c0c0c0" />
<rect x="98" y="581" width="1" height="8" fill="#c0c0c0" />
<rect x="106" y="579" width="1" height="10" fill="#c0c0c0" />
<rect x="114" y="578" width="1" height="11" fill="#c0c0c0" />
<rect x="122" y="576" width="1" height="13" fill="#c0c0c0" />
<rect x="130" y="576" width="1" height="13" fill="#c0c0c0" />
<rect x="138" y="576" width="1" height="13" fill="#c0c0c0" />
<rect x="146" y="576" width="1" height="13" fill="#c0c0c0" />
<rect x="154" y="575" width="1" height="14" fill="#c0c0c0" />
<rect x="162" y="574" width="1" height="15" fill="#c0c0c0" />
<rect x="170" y="571" width="1" height="18" fill="#c0c0c0" />
<rect x="178" y="568" width="1" height="21" fill="#c0c0c0" />
<rect x="186" y="564" width="1" height="25" fill="#c0c0c0" />
<rect x="194" y="562" width="1" height="27" fill="#c0c0c0" />
<rect x="202" y="560" width="1" height="29" fill="#c0c0c0" />
<rect x="210" y="560" width="1" height="29" fill="#c0c0c0" />
<rect x="218" y="559" width="1" height="30" fill="#c0c0c0" />
<rect x="226" y="558" width="1" height="31" fill="#c0c0c0" />
<rect x="234" y="558" width="1" height="31" fill="#c0c0c0" />
<rect x="242" y="558" width="1" height="31" fill="#c0c0c0" />
<rect x="250" y="558" width="1" height="31" fill="#c0c0c0" />
<rect x="258" y="558" width="1" height="31" fill="#c0c0c0" />
<rect x="266" y="561" width="1" height="28" fill="#c0c0c0" />
<rect x="274" y="563" width="1" height="26" fill="#c0c0c0" />
<rect x="282" y="564" width="1" height="25" fill="#c0c0c0" />
<rect x="290" y="565" width="1" height="24" fill="#c0c0c0" />
<rect x="298" y="567" width="1" height="22" fill="#c0c0c0" />
<rect x="306" y="569" width="1" height="20" fill="#c0c0c0" />
<rect x="314" y="570" width="1" height="19" fill="#c0c0c0" />
<rect x="322" y="569" width="1" height="20" fill="#c0c0c0" />
<rect x="330" y="568" width="1" height="21" fill="#c0c0c0" />
<rect x="338" y="565" width="1" height="24" fill="#c0c0c0" />
<rect x="346" y="564" width="1" height="25" fill="#c0c0c0" />
<rect x="354" y="563" width="1" height="26" fill="#c0c0c0" />
<rect x="362" y="561" width="1" height="28" fill="#c0c0c0" />
<rect x="370" y="562" width="1" height="27" fill="#c0c0c0" />
<rect x="378" y="564" width="1" height="25" fill="#c0c0c0" />
<rect x="386" y="564" width="1" height="25" fill="#c0c0c0" />
<rect x="394" y="566" width="1" height="23" fill="#c0c0c0" />
<rect x="402" y="567" width="1" height="22" fill="#c0c0c0" />
<rect x="410" y="569" width="1" height="20" fill="#c0c0c0" />
<rect x="418" y="568" width="1" height="21" fill="#c0c0c0" />
<rect x="426" y="566" width="1" height="23" fill="#c0c0c0" />
<rect x="434" y="564" width="1" height="25" fill="#c0c0c0" />
<rect x="442" y="562" width="1" height="27" fill="#c0c0c0" />
<rect x="450" y="562" width="1" height="27" fill="#c0c0c0" />
<rect x="458" y="563" width="1" height="26" fill="#c0c0c0" />
<rect x="466" y="562" width="1" height="27" fill="#c0c0c0" />
<rect x="474" y="563" width="1" height="26" fill="#c0c0c0" />
<rect x="482" y="565" width="1" height="24" fill="#c0c0c0" />
<rect x="490" y="566" width="1" height="23" fill="#c0c0c0" />
<rect x="498" y="567" width="1" height="22" fill="#c0c0c0" />
<rect x="506" y="570" width="1" height="19" fill="#c0c0c0" />
<rect x="514" y="577" width="1" height="12" fill="#c0c0c0" />
<rect x="522" y="581" width="1" height="8" fill="#c0c0c0" />
<rect x="530" y="584" width="1" height="5" fill="#c0c0c0" />
<rect x="538" y="587" width="1" height="2" fill="#c0c0c0" />
<rect x="546" y="588" width="1" height="1" fill="#c0c0c0" />
<rect x="554" y="589" width="1" height="3" fill="#c0c0c0" />
<rect x="562" y="589" width="1" height="4" fill="#c0c0c0" />
<rect x="570" y="589" width="1" height="5" fill="#c0c0c0" />
<rect x="578" y="589" width="1" height="4" fill="#c0c0c0" />
<rect x="586" y="589" width="1" height="3" fill="#c0c0c0" />
<rect x="594" y="589" width="1" height="2" fill="#c0c0c0" />
<rect x="602" y="588" width="1" height="1" fill="#d8d8d8" />
<rect x="610" y="588" width="1" height="1" fill="#d8d8d8" />
<rect x="618" y="584" width="1" height="5" fill="#c0c0c0" />
<rect x="626" y="582" width="1" height="7" fill="#c0c0c0" />
<rect x="634" y="580" width="1" height="9" fill="#c0c0c0" />
<rect x="642" y="578" width="1" height="11" fill="#c0c0c0" />
<rect x="650" y="577" width="1" height="12" fill="#c0c0c0" />
<rect x="658" y="578" width="1" height="11" fill="#c0c0c0" />
<rect x="666" y="580" width="1" height="9" fill="#c0c0c0" />
<rect x="674" y="582" width="1" height="7" fill="#c0c0c0" />
<rect x="682" y="583" width="1" height="6" fill="#c0c0c0" />
<rect x="690" y="585" width="1" height="4" fill="#c0c0c0" />
<rect x="698" y="587" width="1" height="2" fill="#c0c0c0" />
<rect x="706" y="588" width="1" height="1" fill="#d8d8d8" />
<rect x="714" y="589" width="1" height="2" fill="#c0c0c0" />
<rect x="722" y="589" width="1" height="2" fill="#c0c0c0" />
<rect x="730" y="588" width="1" height="1" fill="#d8d8d8" />
<rect x="738" y="588" width="1" height="1" fill="#d8d8d8" />
<rect x="746" y="588" width="1" height="1" fill="#c0c0c0" />
<rect x="754" y="585" width="1" height="4" fill="#c0c0c0" />
<rect x="762" y="582" width="1" height="7" fill="#c0c0c0" />
<rect x="770" y="580" width="1" height="9" fill="#c0c0c0" />
<rect x="778" y="578" width="1" height="11" fill="#c0c0c0" />
<rect x="786" y="576" width="1" height="13" fill="#c0c0c0" />
<rect x="794" y="574" width="1" height="15" fill="#c0c0c0" />
<rect x="802" y="572" width="1" height="17" fill="#c0c0c0" />
<rect x="810" y="570" width="1" height="19" fill="#c0c0c0" />
<rect x="818" y="567" width="1" height="22" fill="#c0c0c0" />
<rect x="826" y="563" width="1" height="26" fill="#c0c0c0" />
<rect x="834" y="559" width="1" height="30" fill="#c0c0c0" />
<rect x="842" y="556" width="1" height="33" fill="#c0c0c0" />
<rect x="850" y="555" width="1" height="34" fill="#c0c0c0" />
<rect x="858" y="553" width="1" height="36" fill="#c0c0c0" />
<rect x="866" y="551" width="1" height="38" fill="#c0c0c0" />
<rect x="874" y="548" width="1" height="41" fill="#c0c0c0" />
<rect x="882" y="546" width="1" height="43" fill="#c0c0c0" />
<rect x="890" y="544" width="1" height="45" fill="#c0c0c0" />
<rect x="898" y="543" width="1" height="46" fill="#c0c0c0" />
<rect x="906" y="543" width="1" height="46" fill="#c0c0c0" />
<rect x="914" y="545" width="1" height="44" fill="#c0c0c0" />
<rect x="922" y="547" width="1" height="42" fill="#c0c0c0" />
<rect x="930" y="549" width="1" height="40" fill="#c0c0c0" />
<rect x="938" y="551" width="1" height="38" fill="#c0c0c0" />
<rect x="946" y="553" width="1" height="36" fill="#c0c0c0" />
<rect x="954" y="555" width="1" height="34" fill="#c0c0c0" />
<rect x="962" y="556" width="1" height="33" fill="#c0c0c0" />
<rect x="970" y="559" width="1" height="30" fill="#c0c0c0" />
<rect x="978" y="563" width="1" height="26" fill="#c0c0c0" />
<rect x="986" y="565" width="1" height="24" fill="#c0c0c0" />
<rect x="994" y="568" width="1" height="21" fill="#c0c0c0" />
<rect x="1002" y="571" width="1" height="18" fill="#c0c0c0" />
<rect x="1010" y="571" width="1" height="18" fill="#c0c0c0" />
<rect x="1018" y="568" width="1" height="21" fill="#c0c0c0" />
<rect x="1026" y="565" width="1" height="24" fill="#c0c0c0" />
<rect x="1034" y="563" width="1" height="26" fill="#c0c0c0" />
<rect x="1042" y="561" width="1" height="28" fill="#c0c0c0" />
<rect x="1050" y="560" width="1" height="29" fill="#c0c0c0" />
<rect x="1058" y="560" width="1" height="29" fill="#c0c0c0" />
<rect x="1066" y="557" width="1" height="32" fill="#c0c0c0" />
<rect x="1074" y="554" width="1" height="35" fill="#c0c0c0" />
<rect x="1082" y="551" width="1" height="38" fill="#c0c0c0" />
<rect x="1090" y="549" width="1" height="40" fill="#c0c0c0" />
<rect x="1098" y="548" width="1" height="41" fill="#c0c0c0" />
<rect x="1106" y="548" width="1" height="41" fill="#c0c0c0" />
<rect x="1114" y="550" width="1" height="39" fill="#c0c0c0" />
<rect x="1122" y="552" width="1" height="37" fill="#c0c0c0" />
<rect x="1130" y="554" width="1" height="35" fill="#c0c0c0" />
<rect x="1138" y="556" width="1" height="33" fill="#c0c0c0" />
<rect x="1146" y="557" width="1" height="32" fill="#c0c0c0" />
<rect x="1154" y="558" width="1" height="31" fill="#c0c0c0" />
<rect x="1162" y="559" width="1" height="30" fill="#c0c0c0" />
<rect x="1170" y="559" width="1" height="30" fill="#c0c0c0" />
<rect x="1178" y="561" width="1" height="28" fill="#c0c0c0" />
<rect x="1186" y="562" width="1" height="27" fill="#c0c0c0" />
<rect x="1194" y="565" width="1" height="24" fill="#c0c0c0" />
<rect x="1202" y="567" width="1" height="22" fill="#c0c0c0" />
<rect x="1210" y="571" width="1" height="18" fill="#c0c0c0" />
<rect x="1218" y="574" width="1" height="15" fill="#c0c0c0" />
<rect x="1226" y="577" width="1" height="12" fill="#c0c0c0" />
<rect x="1234" y="579" width="1" height="10" fill="#c0c0c0" />
<rect x="1242" y="580" width="1" height="9" fill="#c0c0c0" />
<rect x="1250" y="579" width="1" height="10" fill="#c0c0c0" />
<rect x="1258" y="578" width="1" height="11" fill="#c0c0c0" />
<rect x="1266" y="580" width="1" height="9" fill="#c0c0c0" />
<rect x="1274" y="581" width="1" height="8" fill="#c0c0c0" />
<rect x="1282" y="583" width="1" height="6" fill="#c0c0c0" />
<rect x="1290" y="585" width="1" height="4" fill="#c0c0c0" />
<rect x="1298" y="587" width="1" height="2" fill="#c0c0c0" />
<rect x="1306" y="588" width="1" height="1" fill="#d8d8d8" />
<rect x="1314" y="589" width="1" height="1" fill="#c0c0c0" />
<rect x="1322" y="589" width="1" height="2" fill="#c0c0c0" />
<rect x="1330" y="589" width="1" height="2" fill="#c0c0c0" />
</g>
<polyline points="10,590.5 28,590.5 48,592.5 68,593.5 78,593.5 94,590.5 108,587.5 120,584.5 132,581.5 148,578.5 168,575.5 188,572.5 208,567.5 228,563.5 238,561.5 258,559.5 278,559.5 298,560.5 312,563.5 328,565.5 340,566.5 360,566.5 380,564.5 420,564.5 460,564.5 500,563.5 516,565.5 530,570.5 550,577.5 570,585.5 590,590.5 600,591.5 620,591.5 634,588.5 650,584.5 670,581.5 680,580.5 706,581.5 720,585.5 736,587.5 750,588.5 770,587.5 784,584.5 800,580.5 820,574.5 840,569.5 860,562.5 880,555.5 900,550.5 920,546.5 940,545.5 960,548.5 980,553.5 1000,558.5 1012,562.5 1022,564.5 1036,565.5 1050,565.5 1062,564.5 1074,561.5 1090,558.5 1104,554.5 1116,552.5 1130,551.5 1140,550.5 1154,552.5 1170,554.5 1186,557.5 1200,559.5 1214,562.5 1230,566.5 1244,571.5 1260,573.5 1270,576.5 1290,579.5 1304,582.5 1316,583.5 1327,585.5" fill="none" stroke="#ff0000" stroke-width="1" stroke-dasharray="3 3" shape-rendering="crispEdges"/>
</g>
<text x="14" y="553.5" font-size="12" fill="#000" text-anchor="start" font-weight="normal" textLength="174.5" lengthAdjust="spacingAndGlyphs" >MACD(12,26,9) -0.0674 0.0304</text>
<text x="1683.6" y="552" font-size="12" fill="#000" text-anchor="start" font-weight="normal" textLength="38.4" lengthAdjust="spacingAndGlyphs" >0.8443</text>
<text x="1683.6" y="592.4" font-size="12" fill="#000" text-anchor="start" font-weight="normal" textLength="23.6" lengthAdjust="spacingAndGlyphs" >0.00</text>
<text x="1685.2" y="596.6" font-size="12" fill="#000" text-anchor="start" font-weight="normal" textLength="40.5" lengthAdjust="spacingAndGlyphs" >-0.2106</text>
<g clip-path="url(#c3)">
<g shape-rendering="crispEdges" stroke="#c0c0c0" stroke-width="1" stroke-dasharray="3 3"><path d="M11 642.5 H1679 M11 692.5 H1679"/></g>
<polyline points="10,681 18,690 26,670.4 34,671.6 42,668 50,664.4 58,663 66,664.4 74,656.4 82,657.4 90,655.6 98,653.6 106,653.4 114,654.4 122,650.4 130,660 138,655.6 146,656.6 154,654.6 162,651.4 170,642.4 178,637.6 186,639.4 194,638.4 202,636.4 210,648.4 218,641.4 226,646.4 234,645.4 242,644.4 250,641.4 258,652 266,652 274,653.4 282,653.4 290,652 298,657.4 306,654.4 314,651.6 322,644.4 330,642 338,637.6 346,637.6 354,637.6 362,632.4 370,645.6 378,655.4 386,652.4 394,655.4 402,651.4 410,666.4 418,645.4 426,646.4 434,646.4 442,645.4 450,647.4 458,656.4 466,650.4 474,657.4 482,656.4 490,657.4 498,655.4 506,665 514,683.4 522,673.4 530,673.4 538,674.4 546,678.4 554,675.4 562,674 570,668.4 578,670.4 586,666.4 594,665.4 602,662.4 610,656.4 618,651.4 626,652.4 634,656.4 642,654.4 650,656.4 658,661 666,674.4 674,668.4 682,668.4 690,671.4 698,674.4 706,682.4 714,673 722,665 730,663.4 738,662.4 746,663.4 754,652.4 762,654.4 770,653.4 778,653.4 786,649.4 794,647.4 802,644.4 810,642.4 818,637.4 826,632.4 834,631.4 842,631.4 850,635.4 858,633.4 866,628.4 874,626.4 882,630.4 890,628.4 898,628.4 906,634.4 914,644.4 922,641.4 930,644.4 938,647.4 946,646.4 954,641.4 962,642 970,658.4 978,663 986,659.4 994,663 1002,666.4 1010,651.4 1018,642.4 1026,642.4 1034,640.4 1042,640.4 1050,643.4 1058,643.4 1066,632.4 1074,631.4 1082,631.4 1090,630 1098,630 1106,635 1114,650.4 1122,648.4 1130,646.4 1138,649.4 1146,647 1154,645.4 1162,644.4 1170,643.4 1178,647.4 1186,649.4 1194,657 1202,658.4 1210,673.4 1218,668.4 1226,666.4 1234,666.4 1242,666.4 1250,650.4 1258,658.4 1266,667.4 1274,668.4 1282,672.4 1290,672.4 1298,672.4 1306,680.4 1314,682.4 1322,672.4 1330,671.4" fill="none" stroke="#1e90ff" stroke-width="1" shape-rendering="crispEdges"/>
</g>
<text x="14" y="617.7" font-size="12" fill="#000" text-anchor="start" font-weight="normal" textLength="91.8" lengthAdjust="spacingAndGlyphs" >RSI(14) 47.2094</text>
<text x="1683.6" y="615.5" font-size="12" fill="#000" text-anchor="start" font-weight="normal" textLength="19.6" lengthAdjust="spacingAndGlyphs" >100</text>
<text x="1682.2" y="646.8" font-size="12" fill="#000" text-anchor="start" font-weight="normal" textLength="13.2" lengthAdjust="spacingAndGlyphs" >70</text>
<text x="1682.2" y="697" font-size="12" fill="#000" text-anchor="start" font-weight="normal" textLength="13.2" lengthAdjust="spacingAndGlyphs" >30</text>
<text x="1683.2" y="727.8" font-size="12" fill="#000" text-anchor="start" font-weight="normal" >0</text>
<g shape-rendering="crispEdges">
<rect x="10" y="732" width="1" height="3" fill="#000" />
<rect x="106" y="732" width="1" height="3" fill="#000" />
<rect x="202" y="732" width="1" height="3" fill="#000" />
<rect x="298" y="732" width="1" height="3" fill="#000" />
<rect x="394" y="732" width="1" height="3" fill="#000" />
<rect x="490" y="732" width="1" height="3" fill="#000" />
<rect x="586" y="732" width="1" height="3" fill="#000" />
<rect x="682" y="732" width="1" height="3" fill="#000" />
<rect x="778" y="732" width="1" height="3" fill="#000" />
<rect x="874" y="732" width="1" height="3" fill="#000" />
<rect x="970" y="732" width="1" height="3" fill="#000" />
<rect x="1066" y="732" width="1" height="3" fill="#000" />
<rect x="1162" y="732" width="1" height="3" fill="#000" />
<rect x="1258" y="732" width="1" height="3" fill="#000" />
</g>
<text x="9.4" y="746.8" font-size="12" fill="#000" text-anchor="start" font-weight="normal" textLength="61.3" lengthAdjust="spacingAndGlyphs" >8 Mar 2019</text>
<text x="105.4" y="746.8" font-size="12" fill="#000" text-anchor="start" font-weight="normal" textLength="71.4" lengthAdjust="spacingAndGlyphs" >12 Mar 04:00</text>
<text x="201.4" y="746.8" font-size="12" fill="#000" text-anchor="start" font-weight="normal" textLength="71.4" lengthAdjust="spacingAndGlyphs" >14 Mar 04:00</text>
<text x="297.4" y="746.8" font-size="12" fill="#000" text-anchor="start" font-weight="normal" textLength="71.4" lengthAdjust="spacingAndGlyphs" >18 Mar 00:00</text>
<text x="393.4" y="746.8" font-size="12" fill="#000" text-anchor="start" font-weight="normal" textLength="71.4" lengthAdjust="spacingAndGlyphs" >20 Mar 00:00</text>
<text x="489.4" y="746.8" font-size="12" fill="#000" text-anchor="start" font-weight="normal" textLength="71.4" lengthAdjust="spacingAndGlyphs" >22 Mar 00:00</text>
<text x="585.4" y="746.8" font-size="12" fill="#000" text-anchor="start" font-weight="normal" textLength="71.4" lengthAdjust="spacingAndGlyphs" >25 Mar 20:00</text>
<text x="681.4" y="746.8" font-size="12" fill="#000" text-anchor="start" font-weight="normal" textLength="71.4" lengthAdjust="spacingAndGlyphs" >27 Mar 20:00</text>
<text x="777.4" y="746.8" font-size="12" fill="#000" text-anchor="start" font-weight="normal" textLength="71.4" lengthAdjust="spacingAndGlyphs" >29 Mar 20:00</text>
<text x="873.4" y="746.8" font-size="12" fill="#000" text-anchor="start" font-weight="normal" textLength="64.6" lengthAdjust="spacingAndGlyphs" >2 Apr 16:00</text>
<text x="969.4" y="746.8" font-size="12" fill="#000" text-anchor="start" font-weight="normal" textLength="64.6" lengthAdjust="spacingAndGlyphs" >4 Apr 16:00</text>
<text x="1065.4" y="746.8" font-size="12" fill="#000" text-anchor="start" font-weight="normal" textLength="64.6" lengthAdjust="spacingAndGlyphs" >8 Apr 12:00</text>
<text x="1161.4" y="746.8" font-size="12" fill="#000" text-anchor="start" font-weight="normal" textLength="70.9" lengthAdjust="spacingAndGlyphs" >10 Apr 12:00</text>
<text x="1257.4" y="746.8" font-size="12" fill="#000" text-anchor="start" font-weight="normal" textLength="70.9" lengthAdjust="spacingAndGlyphs" >12 Apr 12:00</text>
</svg>
</body></html>
